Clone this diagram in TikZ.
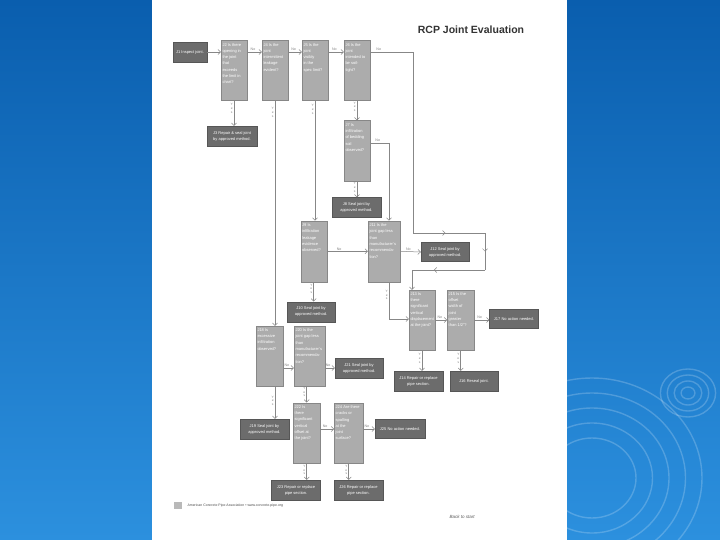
\documentclass[tikz,border=0pt]{standalone}
\usepackage{fontspec}
\setmainfont{Liberation Sans}
\usetikzlibrary{arrows.meta,calc,decorations.markings}

\definecolor{slideblue}{RGB}{10,94,174}
\definecolor{slidelight}{RGB}{44,144,222}
\definecolor{qgray}{RGB}{172,172,172}
\definecolor{tgray}{RGB}{108,108,108}
\definecolor{lgray}{RGB}{135,135,135}

\newcommand{\qtxt}[2][23pt]{\parbox[c][55pt][t]{#1}{\raggedright #2}}

\begin{document}
\begin{tikzpicture}[x=1pt,y=-1pt,
  qbox/.style={rectangle, draw=lgray, fill=qgray, text=white, minimum width=26pt,
               minimum height=60pt, inner sep=1.5pt, font=\fontsize{4}{6.3}\selectfont},
  tbox/.style={rectangle, draw=tgray!80!black, fill=tgray, text=white, minimum width=49pt,
               minimum height=20pt, inner sep=1pt, align=center, font=\fontsize{4}{6}\selectfont},
  conn/.style={draw=lgray, line width=0.5pt},
  arr/.style={conn, -{Straight Barb[length=2.5pt,width=5pt]}},
  midarr/.style={postaction={decorate}, decoration={markings,
                 mark=at position #1 with {\arrow{Straight Barb[length=2.5pt,width=5pt]}}}},
  nolbl/.style={font=\fontsize{3.6}{4}\selectfont, text=gray, inner sep=1pt},
  yeslbl/.style={font=\fontsize{3.2}{3.8}\selectfont, text=gray, align=center, inner sep=1pt}
]
\useasboundingbox (0,0) rectangle (720,540);
% slide background
\fill[top color=slideblue, bottom color=slidelight] (0,0) rectangle (720,540);
\begin{scope}[draw=white, opacity=0.2, line width=1.4pt]
  \foreach \r in {6,12,18,24} \draw (688,393) ellipse ({\r*1.15} and \r);
  \foreach \r in {40,55,70,85,100} \draw (592,478) ellipse ({\r*1.1} and \r);
\end{scope}
% page
\fill[white] (152,0) rectangle (567,540);

\node[font=\bfseries\fontsize{10.5}{12}\selectfont, text=black!80] (title) at (471,30) {RCP Joint Evaluation};

% top row
\node[tbox, minimum width=34pt] (J1) at (190,52) {J1 Inspect joint.};
\node[qbox] (J2) at (234,70.7) {\qtxt{J2 Is there\\opening in\\the joint\\that\\exceeds\\the limit in\\chart?}};
\node[qbox] (J4) at (275,70.7) {\qtxt{J4 Is the\\joint\\intermittent\\leakage\\evident?}};
\node[qbox] (J5) at (315,70.7) {\qtxt{J5 Is the\\joint\\visibly\\in the\\spec limit?}};
\node[qbox] (J6) at (357,70.7) {\qtxt{J6 Is the\\joint\\intended to\\be soil-\\tight?}};
\node[tbox, minimum width=50pt] (J3) at (232,136) {J3 Repair \& seal joint\\by approved method.};
\node[qbox, minimum height=61pt] (J7) at (357,151) {\qtxt{J7 Is\\infiltration\\of bedding\\soil\\observed?}};
\node[tbox] (J8) at (356.4,207.5) {J8 Seal joint by\\approved method.};

% middle
\node[qbox, minimum height=61pt] (J9) at (313.7,251.3) {\qtxt{J9 Is\\infiltration\\leakage\\evidence\\observed?}};
\node[qbox, minimum width=32pt, minimum height=61pt] (J11) at (384,251.3) {\qtxt[29pt]{J11 Is the\\joint gap less\\than\\manufacturer's\\recommenda-\\tion?}};
\node[tbox, minimum width=48pt, minimum height=19pt] (J12) at (445,252) {J12 Seal joint by\\approved method.};
\node[tbox, minimum width=48pt] (J10) at (311,311.7) {J10 Seal joint by\\approved method.};
\node[qbox] (J13) at (422,320) {\qtxt{J13 Is\\there\\significant\\vertical\\displacement\\at the joint?}};
\node[qbox, minimum width=27pt] (J15) at (460.7,320) {\qtxt[24pt]{J15 Is the\\offset\\width of\\joint\\greater\\than 1/2"?}};
\node[tbox, minimum height=19pt] (J17) at (514,318.7) {J17 No action needed.};
\node[tbox] (J14) at (418.4,381) {J14 Repair or replace\\pipe section.};
\node[tbox, minimum width=48pt] (J16) at (474,381) {J16 Reseal joint.};

% lower
\node[qbox, minimum width=27pt] (J18) at (269.5,356) {\qtxt[24pt]{J18 Is\\excessive\\infiltration\\observed?}};
\node[qbox, minimum width=31pt] (J20) at (309.5,356.3) {\qtxt[28pt]{J20 Is the\\joint gap less\\than\\manufacturer's\\recommenda-\\tion?}};
\node[tbox, minimum width=48pt] (J21) at (359,368) {J21 Seal joint by\\approved method.};
\node[tbox] (J19) at (264.4,429) {J19 Seal joint by\\approved method.};
\node[qbox, minimum width=27pt, minimum height=60.6pt] (J22) at (306.7,433) {\qtxt[24pt]{J22 Is\\there\\significant\\vertical\\offset at\\the joint?}};
\node[qbox, minimum width=29pt, minimum height=60.6pt] (J24) at (348.7,433) {\qtxt[26pt]{J24 Are there\\cracks or\\spalling\\at the\\joint\\surface?}};
\node[tbox, minimum width=50pt, minimum height=19pt] (J25) at (400,429) {J25 No action needed.};
\node[tbox] (J23) at (296,490) {J23 Repair or replace\\pipe section.};
\node[tbox] (J26) at (358.4,490) {J26 Repair or replace\\pipe section.};

% corner points
\coordinate (r1) at (413,52);
\coordinate (r2) at (413,233);
\coordinate (r3) at (485,233);
\coordinate (r4) at (485,270);
\coordinate (r5) at (412,270);
\coordinate (k7) at (389,143);
\coordinate (k11) at (389,319);

% top row connectors
\draw[arr] (J1.east) -- (J1.east -| J2.west);
\draw[arr] (J2.east |- J1.east) -- node[nolbl, above, pos=0.4]{No} (J4.west |- J1.east);
\draw[arr] (J4.east |- J1.east) -- node[nolbl, above, pos=0.4]{No} (J5.west |- J1.east);
\draw[arr] (J5.east |- J1.east) -- node[nolbl, above, pos=0.4]{No} (J6.west |- J1.east);
\draw[conn] (J6.east |- J1.east) -- node[nolbl, above, pos=0.2]{No} (r1) -- (r2);
\draw[conn, midarr=0.45] (r2) -- (r3);
\draw[conn, midarr=0.5] (r3) -- (r4);
\draw[conn, midarr=0.7] (r4) -- (r5);
\draw[arr] (r5) -- (r5 |- J13.north);

% yes branches
\draw[arr] (J2.south) -- node[yeslbl, left, pos=0.3]{Y\\e\\s} (J2.south |- J3.north);
\draw[arr] (J4.south) -- node[yeslbl, left, pos=0.05]{Y\\e\\s} (J4.south |- J18.north);
\draw[arr] (J5.south) -- node[yeslbl, left, pos=0.07]{Y\\e\\s} (J5.south |- J9.north);
\draw[arr] (J6.south) -- node[yeslbl, left, pos=0.3]{Y\\e\\s} (J7.north);
\draw[arr] (J7.south) -- node[yeslbl, left, pos=0.35]{Y\\e\\s} (J7.south |- J8.north);
\draw[conn] (J7.east |- k7) -- node[nolbl, above, pos=0.4]{No} (k7);
\draw[arr] (k7) -- (k7 |- J11.north);

\draw[arr] (J9.east) -- node[nolbl, above, pos=0.3]{No} (J11.west);
\draw[arr] (J11.east) -- node[nolbl, above, pos=0.4]{No} (J12.west);
\draw[arr] (J9.south) -- node[yeslbl, left, pos=0.35]{Y\\e\\s} (J9.south |- J10.north);
\draw[arr] (J11.south -| k11) -- node[yeslbl, left, pos=0.35]{Y\\e\\s} (k11) -- (J13.west |- k11);
\draw[arr] (J13.east) -- node[nolbl, above, pos=0.4]{No} (J15.west);
\draw[arr] (J15.east) -- node[nolbl, above, pos=0.35]{No} (J15.east -| J17.west);
\draw[arr] (J13.south) -- node[yeslbl, left, pos=0.4]{Y\\e\\s} (J13.south |- J14.north);
\draw[arr] (J15.south) -- node[yeslbl, left, pos=0.4]{Y\\e\\s} (J15.south |- J16.north);

\draw[arr] (J18.east |- J21.west) -- node[nolbl, above, pos=0.35]{No} (J20.west |- J21.west);
\draw[arr] (J20.east |- J21.west) -- node[nolbl, above, pos=0.3]{No} (J21.west);
\draw[arr] (J18.south -| J4.south) -- node[yeslbl, left, pos=0.45]{Y\\e\\s} (J4.south |- J19.north);
\draw[arr] (J22.north |- J20.south) -- node[yeslbl, left, pos=0.35]{Y\\e\\s} (J22.north);
\draw[arr] (J22.east |- J25.west) -- node[nolbl, above, pos=0.35]{No} (J24.west |- J25.west);
\draw[arr] (J24.east |- J25.west) -- node[nolbl, above, pos=0.3]{No} (J25.west);
\draw[arr] (J22.south) -- node[yeslbl, left, pos=0.4]{Y\\e\\s} (J22.south |- J23.north);
\draw[arr] (J24.south) -- node[yeslbl, left, pos=0.4]{Y\\e\\s} (J24.south |- J26.north);

% footer
\node[fill=gray!55, minimum width=8pt, minimum height=7pt, inner sep=0] (pgno) at (177.5,505.5) {};
\node[anchor=west, font=\fontsize{3.5}{4}\selectfont, text=black!70] (foot) at (184,505.5)
  {American Concrete Pipe Association \textbullet{} www.concrete-pipe.org};
\node[font=\itshape\fontsize{4.5}{5}\selectfont, text=black!65] (back) at (462,517) {Back to start};
\end{tikzpicture}
\end{document}
